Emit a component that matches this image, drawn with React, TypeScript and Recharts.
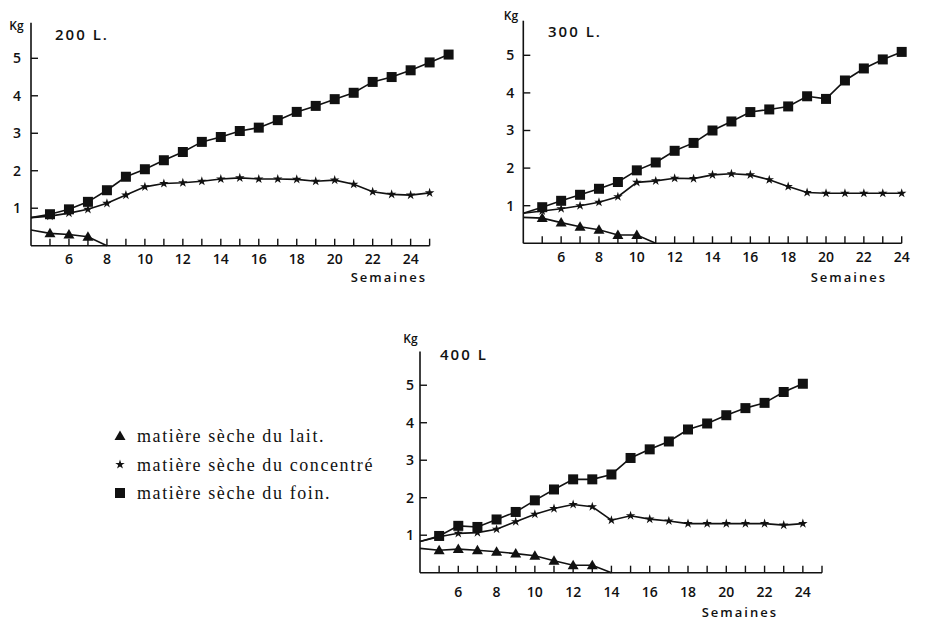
import React from 'react';
import { Line, LineChart, ReferenceLine, XAxis, YAxis } from 'recharts';

// semaines (la semaine 4 sert seulement de départ des courbes, sans marqueur)
const weeks200 = [4, 5, 6, 7, 8, 9, 10, 11, 12, 13, 14, 15, 16, 17, 18, 19, 20, 21, 22, 23, 24, 25, 26];
const foin200 = [0.75, 0.84, 0.97, 1.17, 1.48, 1.84, 2.04, 2.28, 2.5, 2.77, 2.9, 3.06, 3.15, 3.35, 3.57, 3.73, 3.91, 4.08, 4.37, 4.5, 4.68, 4.89, 5.1];
const conc200 = [0.75, 0.79, 0.87, 0.97, 1.13, 1.35, 1.57, 1.66, 1.68, 1.72, 1.78, 1.81, 1.78, 1.78, 1.77, 1.72, 1.75, 1.64, 1.44, 1.37, 1.35, 1.41, null];
const lait200 = [0.42, 0.33, 0.3, 0.24, 0];

const weeks300 = [4, 5, 6, 7, 8, 9, 10, 11, 12, 13, 14, 15, 16, 17, 18, 19, 20, 21, 22, 23, 24];
const foin300 = [0.8, 0.96, 1.13, 1.29, 1.45, 1.63, 1.94, 2.15, 2.46, 2.67, 3.0, 3.24, 3.49, 3.56, 3.64, 3.91, 3.84, 4.33, 4.65, 4.89, 5.09];
const conc300 = [0.8, 0.86, 0.92, 1.0, 1.09, 1.24, 1.62, 1.66, 1.73, 1.72, 1.82, 1.85, 1.82, 1.69, 1.51, 1.35, 1.33, 1.33, 1.33, 1.33, 1.33];
const lait300 = [0.69, 0.67, 0.55, 0.44, 0.36, 0.22, 0.22, 0];

const weeks400 = [4, 5, 6, 7, 8, 9, 10, 11, 12, 13, 14, 15, 16, 17, 18, 19, 20, 21, 22, 23, 24];
const foin400 = [0.83, 0.98, 1.25, 1.22, 1.42, 1.62, 1.93, 2.22, 2.49, 2.49, 2.62, 3.06, 3.29, 3.5, 3.82, 3.98, 4.2, 4.39, 4.53, 4.82, 5.04];
const conc400 = [0.83, 0.96, 1.05, 1.07, 1.16, 1.36, 1.56, 1.71, 1.82, 1.76, 1.4, 1.52, 1.43, 1.38, 1.31, 1.31, 1.31, 1.31, 1.31, 1.27, 1.31];
const lait400 = [0.65, 0.6, 0.63, 0.6, 0.56, 0.51, 0.45, 0.32, 0.2, 0.2, 0];

const ticks200 = [5, 6, 7, 8, 9, 10, 11, 12, 13, 14, 15, 16, 17, 18, 19, 20, 21, 22, 23, 24, 25];
const ticks300 = [5, 6, 7, 8, 9, 10, 11, 12, 13, 14, 15, 16, 17, 18, 19, 20, 21, 22, 23, 24];
const ticks400 = [5, 6, 7, 8, 9, 10, 11, 12, 13, 14, 15, 16, 17, 18, 19, 20, 21, 22, 23, 24, 25];
const kgTicks = [1, 2, 3, 4, 5];

const legendLabels = ['matière sèche du lait.', 'matière sèche du concentré', 'matière sèche du foin.'];

const buildRows = (weeks: number[], foin: (number | null)[], conc: (number | null)[], lait: number[]) =>
  weeks.map((w, i) => ({
    week: w,
    foin: foin[i] ?? null,
    conc: conc[i] ?? null,
    lait: i < lait.length ? lait[i] : null,
  }));

const SANS = "'Open Sans', 'Liberation Sans', sans-serif";
const SERIF = "'Liberation Serif', 'DejaVu Serif', serif";

const Square = ({ cx, cy }: { cx: number; cy: number }) => (
  <rect x={cx - 5} y={cy - 5} width={10} height={10} fill="#111" />
);
const Triangle = ({ cx, cy }: { cx: number; cy: number }) => (
  <polygon points={`${cx},${cy - 5.5} ${cx + 5.5},${cy + 4} ${cx - 5.5},${cy + 4}`} fill="#111" />
);
const Star = ({ cx, cy }: { cx: number; cy: number }) => {
  const pts: string[] = [];
  for (let k = 0; k < 10; k++) {
    const r = k % 2 === 0 ? 5 : 1.9;
    const a = -Math.PI / 2 + (k * Math.PI) / 5;
    pts.push(`${cx + r * Math.cos(a)},${cy + r * Math.sin(a)}`);
  }
  return <polygon points={pts.join(' ')} fill="#111" />;
};

const makeDot = (Shape: any, key: string) => (props: any) => {
  const { cx, cy, payload, index } = props;
  const v = payload?.[key];
  if (v == null || v === 0 || payload.week <= 4 || cx == null || cy == null) {
    return <g key={`${key}-${index}`} />;
  }
  return (
    <g key={`${key}-${index}`}>
      <Shape cx={cx} cy={cy} />
    </g>
  );
};

interface PanelProps {
  rows: any[];
  left: number;
  top: number;
  width: number;
  height: number;
  yAxisWidth: number;
  xAxisHeight: number;
  marginTop: number;
  marginRight: number;
  xMax: number;
  axisEnd: number;
  xTicks: number[];
  yMax: number;
  labelDy: number;
  yGap: number;
}

const Panel = (p: PanelProps) => {
  const XTick = (props: any) => {
    const { x, y, payload } = props;
    const w = payload.value;
    return (
      <g>
        <line x1={x} y1={y} x2={x} y2={y - 7} stroke="#111" strokeWidth={1.4} />
        {w % 2 === 0 && (
          <text x={x} y={y + p.labelDy} dy="0.35em" textAnchor="middle" fontSize={14} fontWeight={600} fontFamily={SANS} fill="#111">
            {w}
          </text>
        )}
      </g>
    );
  };
  const YTick = (props: any) => {
    const { x, y, payload } = props;
    return (
      <g>
        <line x1={x} y1={y} x2={x + 7} y2={y} stroke="#111" strokeWidth={1.4} />
        <text x={x - p.yGap} y={y} dy="0.35em" textAnchor="end" fontSize={14} fontWeight={600} fontFamily={SANS} fill="#111">
          {payload.value}
        </text>
      </g>
    );
  };
  return (
    <div style={{ position: 'absolute', left: p.left, top: p.top }}>
      <LineChart
        width={p.width}
        height={p.height}
        data={p.rows}
        margin={{ top: p.marginTop, right: p.marginRight, bottom: 0, left: 0 }}
      >
        <XAxis
          type="number"
          dataKey="week"
          domain={[4, p.xMax]}
          ticks={p.xTicks}
          interval={0}
          height={p.xAxisHeight}
          axisLine={false}
          tickLine={false}
          tickSize={0}
          tickMargin={0}
          tick={<XTick />}
        />
        <YAxis
          type="number"
          domain={[0, p.yMax]}
          ticks={kgTicks}
          interval={0}
          width={p.yAxisWidth}
          axisLine={{ stroke: '#111', strokeWidth: 1.6 }}
          tickLine={false}
          tickSize={0}
          tickMargin={0}
          tick={<YTick />}
        />
        <ReferenceLine
          segment={[
            { x: 4, y: 0 },
            { x: p.axisEnd, y: 0 },
          ]}
          stroke="#111"
          strokeWidth={1.6}
        />
        <Line
          dataKey="lait"
          type="linear"
          stroke="#111"
          strokeWidth={1.6}
          dot={makeDot(Triangle, 'lait')}
          activeDot={false}
          isAnimationActive={false}
        />
        <Line
          dataKey="conc"
          type="linear"
          stroke="#111"
          strokeWidth={1.6}
          dot={makeDot(Star, 'conc')}
          activeDot={false}
          isAnimationActive={false}
        />
        <Line
          dataKey="foin"
          type="linear"
          stroke="#111"
          strokeWidth={1.6}
          dot={makeDot(Square, 'foin')}
          activeDot={false}
          isAnimationActive={false}
        />
      </LineChart>
    </div>
  );
};

const sansText = { fontFamily: SANS, fontWeight: 600, fill: '#111' } as const;

export default function App() {
  const rows200 = buildRows(weeks200, foin200, conc200, lait200);
  const rows300 = buildRows(weeks300, foin300, conc300, lait300);
  const rows400 = buildRows(weeks400, foin400, conc400, lait400);
  const legendShapes = [Triangle, Star, Square];

  return (
    <div style={{ position: 'absolute', left: 0, top: 0, width: 925, height: 620, background: '#fff', overflow: 'hidden' }}>
      <Panel rows={rows200} left={0} top={0} width={470} height={290} yAxisWidth={31} xAxisHeight={44.3}
        marginTop={22.7} marginRight={21.4} xMax={26} axisEnd={25} xTicks={ticks200} yMax={5.95} labelDy={13} yGap={10} />
      <Panel rows={rows300} left={460} top={0} width={465} height={290} yAxisWidth={63.3} xAxisHeight={46.7}
        marginTop={20.7} marginRight={23.3} xMax={24} axisEnd={24} xTicks={ticks300} yMax={5.92} labelDy={13.4} yGap={9} />
      <Panel rows={rows400} left={380} top={330} width={545} height={290} yAxisWidth={40} xAxisHeight={47.3}
        marginTop={21.5} marginRight={103} xMax={25} axisEnd={25} xTicks={ticks400} yMax={5.9} labelDy={19} yGap={6} />

      <svg width={925} height={620} style={{ position: 'absolute', left: 0, top: 0, pointerEvents: 'none' }}>
        <text x={16.5} y={30} textAnchor="middle" fontSize={12} {...sansText}>Kg</text>
        <text x={55} y={39.5} fontSize={15} letterSpacing={2} {...sansText}>200 L.</text>
        <text x={427} y={282} textAnchor="end" fontSize={13} letterSpacing={2} {...sansText}>Semaines</text>

        <text x={511} y={20} textAnchor="middle" fontSize={12} {...sansText}>Kg</text>
        <text x={548} y={36.7} fontSize={15} letterSpacing={2} {...sansText}>300 L.</text>
        <text x={887} y={282} textAnchor="end" fontSize={13} letterSpacing={2} {...sansText}>Semaines</text>

        <text x={410.5} y={343} textAnchor="middle" fontSize={12} {...sansText}>Kg</text>
        <text x={440} y={360} fontSize={15} letterSpacing={2} {...sansText}>400 L</text>
        <text x={778} y={617} textAnchor="end" fontSize={13} letterSpacing={2} {...sansText}>Semaines</text>

        {legendLabels.map((label, i) => {
          const Shape = legendShapes[i];
          const y = 436 + i * 28.5;
          return (
            <g key={label}>
              <Shape cx={120} cy={y} />
              <text x={137} y={y} dy="0.35em" fontSize={18} letterSpacing={1.6} fontFamily={SERIF} fill="#111">
                {label}
              </text>
            </g>
          );
        })}
      </svg>
    </div>
  );
}
